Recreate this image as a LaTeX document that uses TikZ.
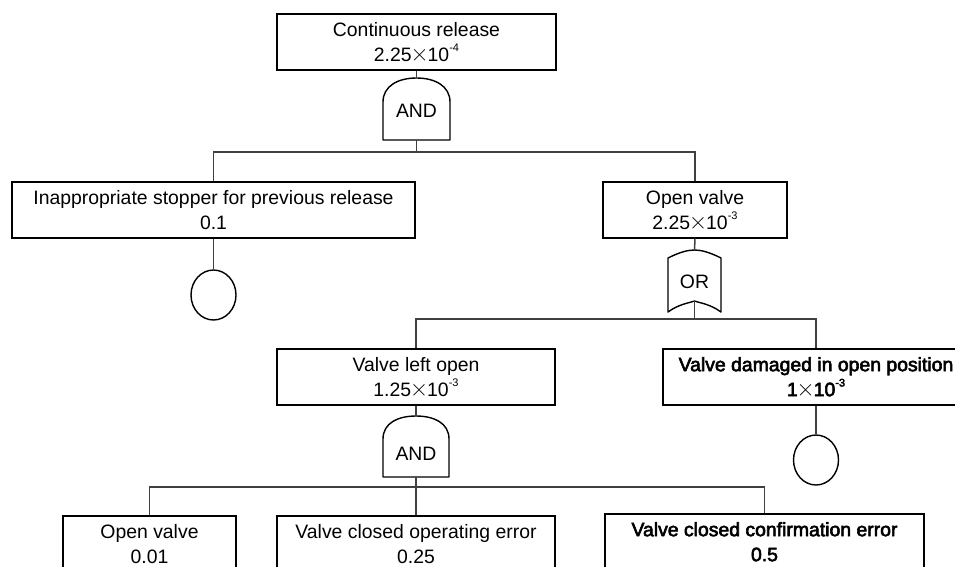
\documentclass[tikz,border=0pt]{standalone}
\usepackage{fontspec}
\setmainfont{Liberation Sans}
\newfontfamily\heavyface{Liberation Sans}[FakeBold=3]
\newfontfamily\crossface{Latin Modern Roman}
\usetikzlibrary{shapes.geometric}
\newcommand\labelsize{\fontsize{19.4pt}{25pt}\selectfont}
\newcommand\expo[1]{\raisebox{0.5em}{\fontsize{11pt}{11pt}\selectfont #1}}
\newcommand\tms{{\crossface\fontsize{25pt}{25pt}\selectfont\kern-1pt×\kern-1pt}}

\begin{document}
\begin{tikzpicture}[x=1pt,y=-1pt,
  event/.style={draw, line width=1.5pt, rectangle, minimum height=56pt,
    inner sep=0pt, anchor=north, align=center, font=\labelsize},
  heavy/.style={font=\heavyface\labelsize},
  basic/.style={draw, ellipse, line width=1.4pt, minimum width=45pt,
    minimum height=50pt, inner sep=0pt},
  gateline/.style={draw, line width=1.4pt, line join=round},
  gatetext/.style={inner sep=0pt, font=\labelsize},
  link/.style={draw=black!75, line width=1.5pt}]
\useasboundingbox (0,0) rectangle (955,566);
\clip (0,0) rectangle (955,566);

% ---- events ----
\node[event, minimum width=279pt] (top) at (416.5,13)
  {Continuous release\\2.25\tms10\expo{-4}};
\node[event, minimum width=403pt] (inap) at (213.5,181)
  {Inappropriate stopper for previous release\\0.1};
\node[event, minimum width=184pt] (openv) at (695,181)
  {Open valve\\2.25\tms10\expo{-3}};
\node[event, minimum width=278pt] (leftopen) at (416,348)
  {Valve left open\\1.25\tms10\expo{-3}};
\node[event, heavy, minimum width=306pt] (damaged) at (816,348)
  {Valve damaged in open position\\1\tms10\expo{-3}};
\node[event, minimum width=173pt] (openv2) at (149.5,515)
  {Open valve\\0.01};
\node[event, minimum width=278pt] (closedop) at (416,515)
  {Valve closed operating error\\0.25};
\node[event, heavy, minimum width=319pt] (confirm) at (764.5,513)
  {Valve closed confirmation error\\0.5};

% ---- basic events ----
\node[basic] (ev1) at (213.5,295) {};
\node[basic] (ev2) at (816,460) {};

% ---- gates ----
\draw[gateline] (383,140) -- (383,102) .. controls (383,86) and (398,78) .. (416.5,78)
  .. controls (435,78) and (450,86) .. (450,102) -- (450,140) -- cycle;
\node[gatetext] (and1) at (416.5,111) {AND};
\coordinate (and1in) at (416.5,78);
\coordinate (and1out) at (416.5,140);

\draw[gateline] (668,312) -- (668,258) .. controls (680,252) and (688,250) .. (694.5,250)
  .. controls (701,250) and (709,252) .. (721,258) -- (721,312)
  .. controls (710,304) and (700,303) .. (694.5,301)
  .. controls (689,303) and (679,304) .. (668,312) -- cycle;
\node[gatetext] (or1) at (694.5,282) {OR};
\coordinate (or1in) at (694.5,250);
\coordinate (or1out) at (694.5,301);

\draw[gateline] (383,477) -- (383,439) .. controls (383,423) and (398,416) .. (416,416)
  .. controls (434,416) and (449,423) .. (449,439) -- (449,477) -- cycle;
\node[gatetext] (and2) at (416,454) {AND};
\coordinate (and2in) at (416,416);
\coordinate (and2out) at (416,477);

% ---- junctions ----
\coordinate (j1) at (416.5,152);
\coordinate (j2) at (694.5,319);
\coordinate (j3) at (416,487);

% ---- connectors ----
\draw[link] (top.south) -- (and1in);
\draw[link] (and1out) -- (j1);
\draw[link] (inap.north) |- (j1) -| (openv.north);
\draw[link] (inap.south) -- (ev1.north);
\draw[link] (openv.south) -- (or1in);
\draw[link] (or1out) -- (j2);
\draw[link] (leftopen.north) |- (j2) -| (damaged.north);
\draw[link] (damaged.south) -- (ev2.north);
\draw[link] (leftopen.south) -- (and2in);
\draw[link] (and2out) -- (j3);
\draw[link] (openv2.north) |- (j3) -| (confirm.north);
\draw[link] (j3) -- (closedop.north);
\end{tikzpicture}
\end{document}
